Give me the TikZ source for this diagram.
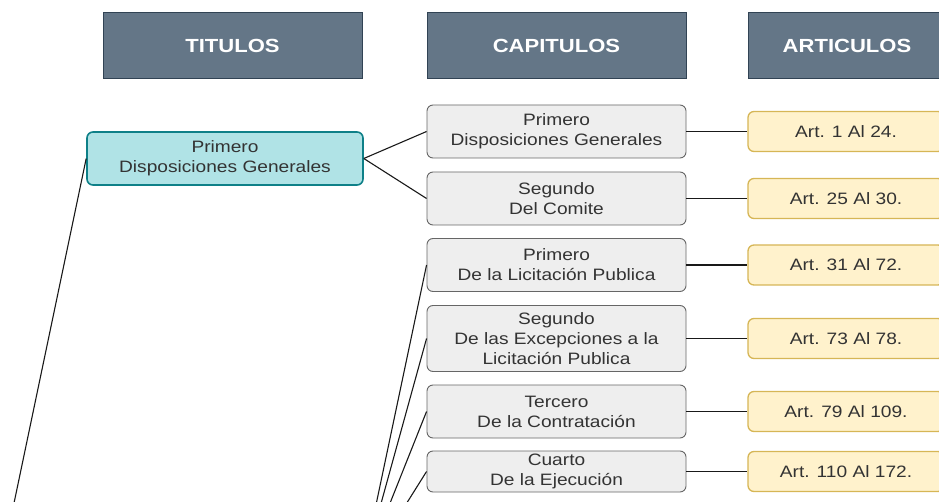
\documentclass[tikz,border=0pt]{standalone}
\usepackage{fontspec}
\newfontfamily\diagfont[FakeStretch=1.16]{Liberation Sans}
\definecolor{headgray}{HTML}{647687}
\definecolor{headline}{HTML}{314354}
\definecolor{titlefill}{HTML}{B0E3E6}
\definecolor{titleline}{HTML}{0E8088}
\definecolor{chapfill}{HTML}{EEEEEE}
\definecolor{chapline}{HTML}{666666}
\definecolor{artfill}{HTML}{FFF2CC}
\definecolor{artline}{HTML}{D6B656}
\definecolor{txtgray}{HTML}{333333}
\tikzset{
headbox/.style={draw=headline, fill=headgray, line width=1pt, minimum height=66pt,
  inner sep=0pt, text=white, font=\diagfont\bfseries\fontsize{19}{22}\selectfont},
titlebox/.style={draw=titleline, fill=titlefill, line width=1.6pt, rounded corners=6pt,
  minimum width=276pt, minimum height=53pt, inner sep=0pt, align=center,
  text=txtgray, font=\diagfont\fontsize{16.5}{20}\selectfont},
chapbox/.style={draw=chapline, fill=chapfill, line width=0.9pt, rounded corners=6pt,
  minimum width=259pt, inner sep=0pt, align=center,
  text=txtgray, font=\diagfont\fontsize{16.5}{20}\selectfont},
artbox/.style={draw=artline, fill=artfill, line width=1.3pt, rounded corners=6pt,
  minimum width=196pt, minimum height=40pt, inner sep=0pt,
  text=txtgray, font=\diagfont\fontsize{16.5}{20}\selectfont},
link/.style={draw=black!90, line width=1.1pt}
}
\begin{document}
\begin{tikzpicture}[x=1pt,y=-1pt]
\useasboundingbox (0,0) rectangle (939,502);
\clip (0,0) rectangle (939,502);
% headers
\node[headbox, minimum width=259pt] (htit) at (232.5,45.5) {TITULOS};
\node[headbox, minimum width=259pt] (hcap) at (556.5,45.5) {CAPITULOS};
\node[headbox, minimum width=198pt] (hart) at (847,45.5) {ARTICULOS};
% titulos
\node[titlebox] (tit1) at (225,158.5) {Primero\\Disposiciones Generales};
\coordinate (tit2) at (361,576);
\coordinate (root) at (0,570);
% capitulos
\node[chapbox, minimum height=53pt] (ch1) at (556.5,131.5) {Primero\\Disposiciones Generales};
\node[chapbox, minimum height=53pt] (ch2) at (556.5,198.5) {Segundo\\Del Comite};
\node[chapbox, minimum height=53pt] (ch3) at (556.5,265) {Primero\\De la Licitación Publica};
\node[chapbox, minimum height=66pt] (ch4) at (556.5,338.5) {Segundo\\De las Excepciones a la\\Licitación Publica};
\node[chapbox, minimum height=53pt] (ch5) at (556.5,411.5) {Tercero\\De la Contratación};
\node[chapbox, minimum height=41pt] (ch6) at (556.5,471.5) {Cuarto\\De la Ejecución};
% articulos
\node[artbox] (art1) at (846,131.5) {Art. 1 Al 24.};
\node[artbox] (art2) at (846,198.5) {Art. 25 Al 30.};
\node[artbox] (art3) at (846,265) {Art. 31 Al 72.};
\node[artbox] (art4) at (846,338.5) {Art. 73 Al 78.};
\node[artbox] (art5) at (846,411.5) {Art. 79 Al 109.};
\node[artbox] (art6) at (846,471.5) {Art. 110 Al 172.};
% links
\draw[link] (root) -- (tit1.west);
\draw[link] (tit1.east) -- (ch1.west);
\draw[link] (tit1.east) -- (ch2.west);
\draw[link] (tit2) -- (ch3.west);
\draw[link] (tit2) -- (ch4.west);
\draw[link] (tit2) -- (ch5.west);
\draw[link] (tit2) -- (ch6.west);
\draw[link] (ch1.east) -- (art1.west);
\draw[link] (ch2.east) -- (art2.west);
\draw[link] (ch3.east) -- (art3.west);
\draw[link] (ch4.east) -- (art4.west);
\draw[link] (ch5.east) -- (art5.west);
\draw[link] (ch6.east) -- (art6.west);
\end{tikzpicture}
\end{document}
